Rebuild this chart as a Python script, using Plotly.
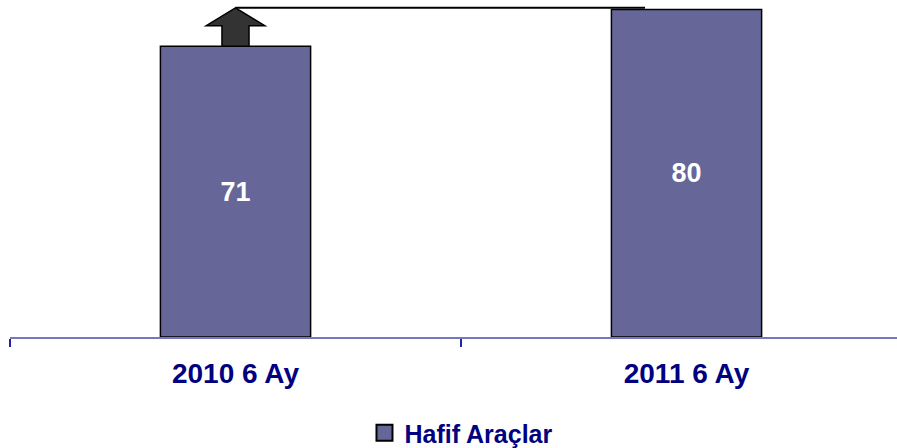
import plotly.graph_objects as go

categories = ["2010 6 Ay", "2011 6 Ay"]
values = [71, 80]
series_name = "Hafif Araçlar"

bar_color = "#666699"
text_color = "#000080"
font_family = "Liberation Sans, Arial, sans-serif"

fig = go.Figure()
fig.add_trace(go.Bar(
    x=categories, y=values, name=series_name,
    width=0.333,
    marker=dict(color=bar_color, line=dict(color="#000000", width=1.5)),
    texttemplate="<b>%{y}</b>", textposition="inside",
    insidetextanchor="middle",
    textfont=dict(color="white", size=27, family=font_family),
    showlegend=False,
))
# legend entry (square swatch like the reference)
fig.add_trace(go.Scatter(
    x=[None], y=[None], mode="markers", name=f"<b>{series_name}</b>",
    marker=dict(symbol="square", size=16, color=bar_color,
                line=dict(color="#000000", width=2)),
    showlegend=True,
))

# growth arrow on top of first bar, line to second bar level
v1, v2 = values
tip = v2 + 0.4
head_base = v1 + (v2 - v1) * 0.56
hw, sw = 0.065, 0.03
pts = [(-sw, v1), (sw, v1), (sw, head_base), (hw, head_base), (0, tip),
       (-hw, head_base), (-sw, head_base)]
path = "M " + " L ".join(f"{x},{y}" for x, y in pts) + " Z"
fig.add_shape(type="path", path=path, xref="x", yref="y",
              fillcolor="#333333", line=dict(color="#000000", width=1.5))
fig.add_shape(type="line", xref="x", yref="y", x0=0, x1=0.908, y0=tip, y1=tip,
              line=dict(color="#000000", width=2))

fig.update_layout(
    width=897, height=448,
    margin=dict(l=10, r=0, t=0, b=111, autoexpand=False),
    paper_bgcolor="white", plot_bgcolor="white",
    font=dict(family=font_family, color=text_color, size=20),
    xaxis=dict(
        type="category", range=[-0.5, 1.4667],
        ticktext=[f"<b>{c}</b>" for c in categories],
        tickvals=categories,
        tickson="boundaries", ticks="outside", ticklen=8, tickwidth=2,
        tickcolor="#2222aa", automargin=False, ticklabelstandoff=10,
        showline=True, linecolor="#7777bb", linewidth=2,
        showgrid=False, zeroline=False,
        tickfont=dict(size=28, color=text_color, family=font_family),
    ),
    yaxis=dict(range=[0, 82.3], visible=False, showgrid=False, zeroline=False,
               automargin=False),
    legend=dict(orientation="h", x=0.509, xanchor="center",
                y=-0.285, yanchor="middle", itemsizing="trace",
                font=dict(size=25, color=text_color, family=font_family)),
    uniformtext=dict(minsize=10, mode="show"),
)

fig.write_html("out.html",
               config={"displayModeBar": False},
               post_script="document.body.style.margin='0';")
